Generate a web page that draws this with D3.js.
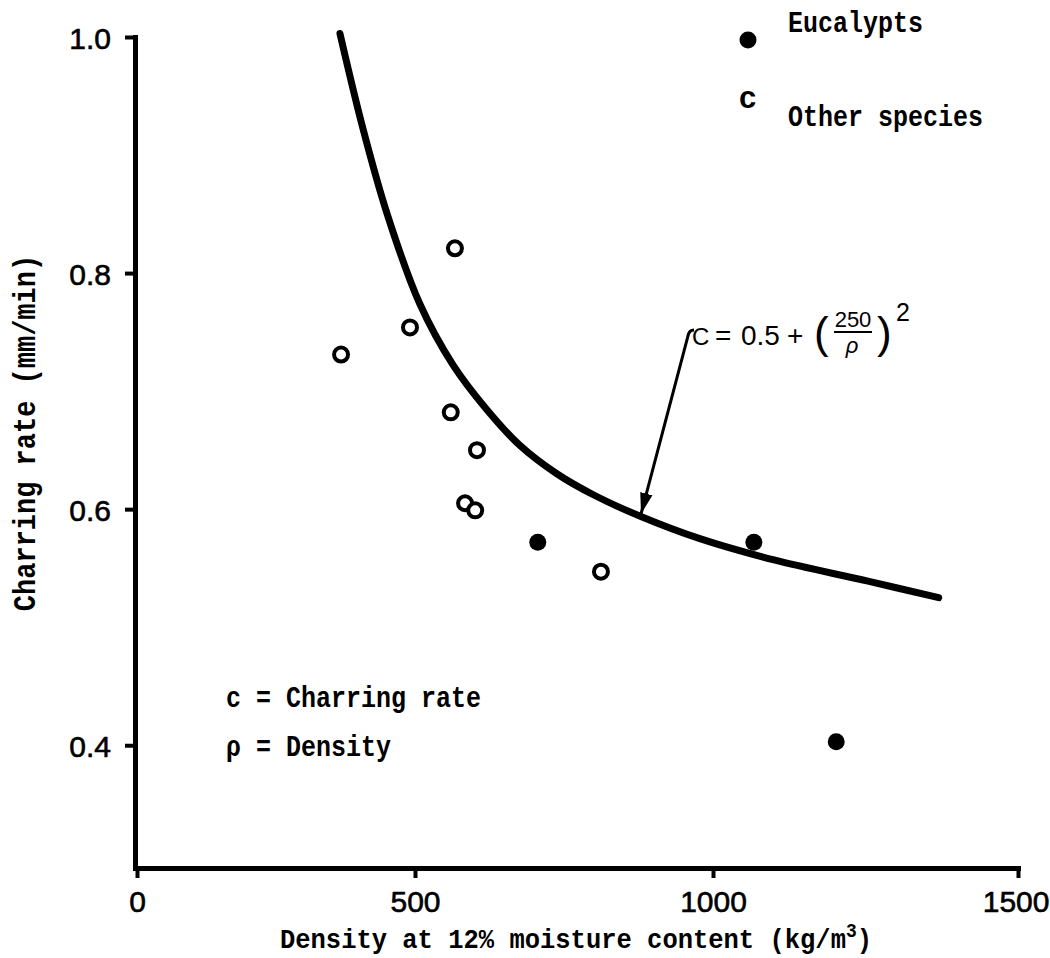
<!DOCTYPE html>
<html lang="en">
<head>
<meta charset="utf-8">
<script src="https://d3js.org/d3.v7.min.js"></script>
<style>
  body { margin: 0; background: #fff; }
  .mono { font-family: "Liberation Mono", "Courier New", monospace; font-weight: bold; fill: #000; }
  .sans { font-family: "Liberation Sans", Arial, sans-serif; fill: #000; }
</style>
</head>
<body>
<script>
// ---- data ----
var xTicks = [0, 500, 1000, 1500];
var yTicks = [0.4, 0.6, 0.8, 1.0];

// eucalypts (filled dots)
var eucDensity = [706, 1067, 1202];
var eucRate    = [0.572, 0.572, 0.403];

// other species (open circles)
var otherDensity = [367, 491, 567, 560, 604, 584, 601, 812];
var otherRate    = [0.731, 0.754, 0.821, 0.682, 0.650, 0.605, 0.599, 0.547];

// fitted curve c = 0.5 + (250/rho)^2
var curveDensity = [365, 405, 450, 508, 564, 621, 676, 738, 800, 878, 978, 1100, 1254, 1370];
var curveRate    = [1.003, 0.925, 0.850, 0.774, 0.722, 0.684, 0.654, 0.630, 0.612, 0.594, 0.575, 0.557, 0.539, 0.525];

var width = 1050, height = 958;

var svg = d3.select("body").append("svg")
    .attr("width", width)
    .attr("height", height);

svg.append("rect")
   .attr("width", width).attr("height", height)
   .attr("fill", "#fff");

// hand drawn axes are slightly uneven, so x is piecewise
var x = d3.scaleLinear().domain([0, 500, 1000, 1500]).range([137, 415, 713, 1018]);
var y = d3.scaleLinear().domain([0.296, 1.0]).range([868, 37]);

// y axis
var yAxis = svg.append("g")
   .attr("transform", "translate(135,0)")
   .call(d3.axisLeft(y).tickValues(yTicks).tickFormat(d3.format(".1f"))
         .tickSize(10).tickSizeOuter(0).tickPadding(14));
yAxis.select(".domain").attr("stroke-width", 5).attr("stroke-linecap", "square");
yAxis.selectAll(".tick line").attr("stroke-width", 4);
yAxis.selectAll(".tick text")
   .attr("font-family", "Liberation Sans, Arial, sans-serif")
   .attr("font-size", 30)
   .attr("stroke", "#000").attr("stroke-width", 0.6)
   .attr("dy", "0.38em");

// x axis
var xAxis = svg.append("g")
   .attr("transform", "translate(0,868)")
   .call(d3.axisBottom(x).tickValues(xTicks).tickFormat(d3.format("d"))
         .tickSize(10).tickSizeOuter(0).tickPadding(13));
xAxis.select(".domain").attr("stroke-width", 5).attr("stroke-linecap", "square");
xAxis.selectAll(".tick line").attr("stroke-width", 4);
xAxis.selectAll(".tick text")
   .attr("font-family", "Liberation Sans, Arial, sans-serif")
   .attr("font-size", 30)
   .attr("stroke", "#000").attr("stroke-width", 0.6);
xAxis.selectAll(".tick text").filter(function (d) { return d === 1500; })
   .attr("text-anchor", "end").attr("dx", 31);

// axis titles
svg.append("text")
   .attr("class", "mono")
   .attr("transform", "translate(35,433) rotate(-90) scale(1,1.15)")
   .attr("text-anchor", "middle")
   .attr("font-size", 27)
   .text("Charring rate (mm/min)");

var xt = svg.append("text")
   .attr("class", "mono")
   .attr("transform", "translate(576,948) scale(1,1.1)")
   .attr("text-anchor", "middle")
   .attr("font-size", 25.5);
xt.append("tspan").text("Density at 12% moisture content (kg/m");
xt.append("tspan").attr("dy", -10).attr("font-size", 18).text("3");
xt.append("tspan").attr("dy", 10).text(")");

// curve
var curvePts = curveDensity.map(function (d, i) { return [d, curveRate[i]]; });
svg.append("path")
   .datum(curvePts)
   .attr("fill", "none")
   .attr("stroke", "#000")
   .attr("stroke-width", 7)
   .attr("stroke-linecap", "round")
   .attr("d", d3.line()
       .x(function (d) { return x(d[0]); })
       .y(function (d) { return y(d[1]); })
       .curve(d3.curveCatmullRom.alpha(0.5)));

// open circles
svg.append("g").selectAll("circle")
   .data(otherDensity)
   .enter().append("circle")
   .attr("cx", function (d) { return x(d); })
   .attr("cy", function (d, i) { return y(otherRate[i]); })
   .attr("r", 7)
   .attr("fill", "#fff")
   .attr("stroke", "#000")
   .attr("stroke-width", 4);

// filled dots
svg.append("g").selectAll("circle")
   .data(eucDensity)
   .enter().append("circle")
   .attr("cx", function (d) { return x(d); })
   .attr("cy", function (d, i) { return y(eucRate[i]); })
   .attr("r", 8.5)
   .attr("fill", "#000");

// legend
svg.append("circle").attr("cx", 748).attr("cy", 40).attr("r", 8.5).attr("fill", "#000");
svg.append("text").attr("class", "mono")
   .attr("transform", "translate(788,32) scale(1,1.15)")
   .attr("font-size", 25).text("Eucalypts");
svg.append("text").attr("class", "sans")
   .attr("x", 739).attr("y", 108)
   .attr("font-size", 31).attr("font-weight", "bold").text("c");
svg.append("text").attr("class", "mono")
   .attr("transform", "translate(788,126) scale(1,1.15)")
   .attr("font-size", 25).text("Other species");

// symbol notes
svg.append("text").attr("class", "mono")
   .attr("transform", "translate(226,707) scale(1,1.15)")
   .attr("font-size", 25).text("c = Charring rate");
svg.append("text").attr("class", "mono")
   .attr("transform", "translate(226,756) scale(1,1.15)")
   .attr("font-size", 25).text("\u03c1 = Density");

// formula with arrow
svg.append("defs").append("marker")
   .attr("id", "head")
   .attr("viewBox", "0 0 10 10")
   .attr("refX", 10).attr("refY", 5)
   .attr("markerWidth", 7).attr("markerHeight", 7)
   .attr("markerUnits", "strokeWidth")
   .attr("orient", "auto")
   .append("path").attr("d", "M0,2 L10,5 L0,8 Z").attr("fill", "#000");

svg.append("path")
   .attr("d", "M694,330 Q689,330 688,336 L641,514")
   .attr("fill", "none")
   .attr("stroke", "#000")
   .attr("stroke-width", 3)
   .attr("marker-end", "url(#head)");

var f = svg.append("g").attr("class", "sans");
f.append("text").attr("x", 692).attr("y", 345).attr("font-size", 24).text("C");
f.append("text").attr("x", 715).attr("y", 345).attr("font-size", 28).text("=");
f.append("text").attr("x", 741).attr("y", 345).attr("font-size", 28).text("0.5");
f.append("text").attr("x", 787).attr("y", 345).attr("font-size", 28).text("+");
f.append("text").attr("x", 814).attr("y", 348).attr("font-size", 44).text("(");
f.append("text").attr("x", 853).attr("y", 327).attr("font-size", 22).attr("text-anchor", "middle").text("250");
f.append("line").attr("x1", 834).attr("x2", 872).attr("y1", 332).attr("y2", 332)
   .attr("stroke", "#000").attr("stroke-width", 2);
f.append("text").attr("x", 852).attr("y", 353).attr("font-size", 22).attr("font-style", "italic")
   .attr("text-anchor", "middle").text("\u03c1");
f.append("text").attr("x", 877).attr("y", 348).attr("font-size", 44).text(")");
f.append("text").attr("x", 896).attr("y", 321).attr("font-size", 25).text("2");
</script>
</body>
</html>
